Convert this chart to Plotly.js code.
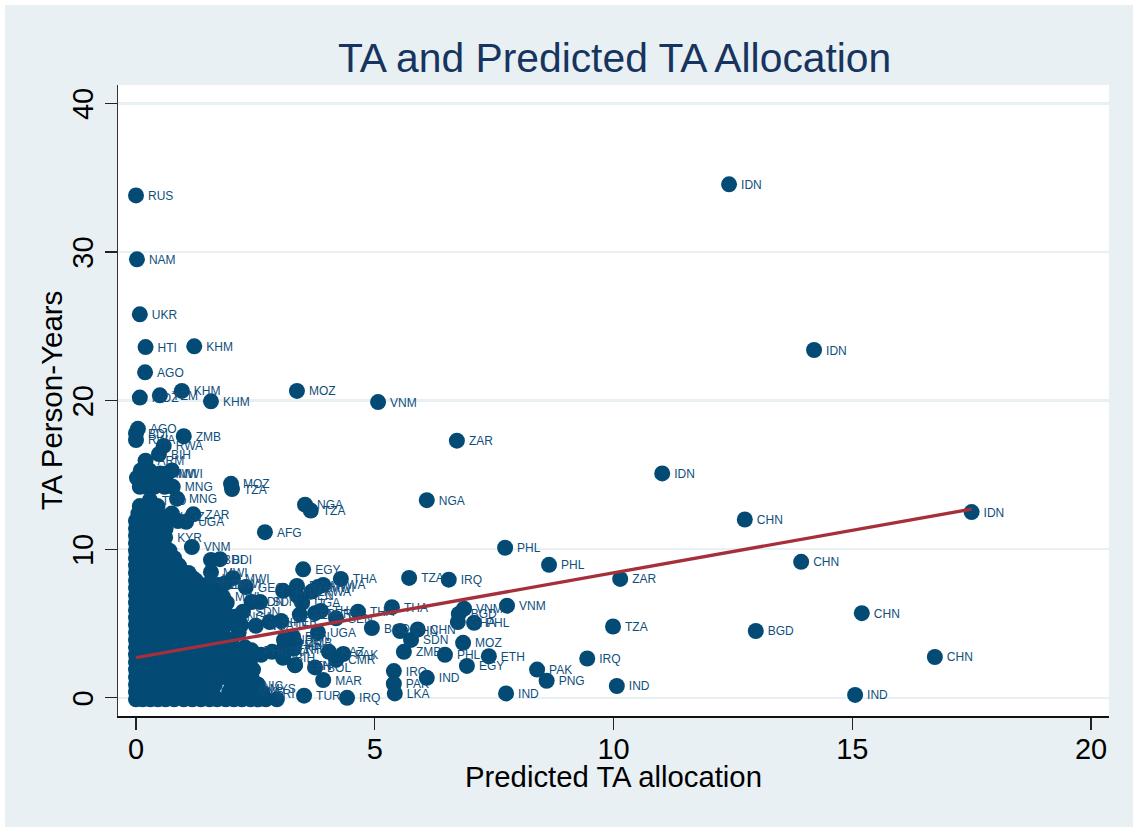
<!DOCTYPE html>
<html>
<head>
<meta charset="utf-8">
<script src="https://cdn.plot.ly/plotly-3.0.1.min.js"></script>
<style>
html,body{margin:0;padding:0;background:#fff;overflow:hidden}
#chart{position:absolute;left:5px;top:5px;width:1128px;height:822px}
</style>
</head>
<body>
<div id="chart"></div>
<script>
// Labelled points
const codes = ["RUS","NAM","UKR","HTI","KHM","AGO","MOZ","YEM","KHM","KHM","MOZ","VNM","ZAR","IDN","IDN","IDN","IDN",
"CHN","CHN","CHN","CHN","BGD","IND","NGA","PHL","PHL","ZAR","TZA","IRQ","IND","IND","PNG","PAK","ETH","EGY","MOZ","PHL",
"ZMB","SDN","IND","IRQ","PAK","LKA","IRQ","TUR","MAR","VNM","VNM","BGD","PHL","GHA","TZA","IRQ","THA","THA","BGD","CHN","CHN",
"NGA","TZA","AFG","MOZ","TZA","EGY","THA","UGA","AGO","BDI","RWA","ZMB","RWA","BIH","ARM","MWI","MWI","MNG","MNG","TCD","ZAR","UGA","KGZ","KYR","VNM","BDI","BDI","MWI",
"KHM","IDN","SDN","WWA","NGA","BOL","CMR","PAK","KAZ","PER","SEN","ETH","ZMB","MYS","MYS","PHL","RWA","MWI",
"NGA","SDN","MWI","KHN","PER","SEN","THA","RWA","KEN","UGA","BEN","ZMB","GHA","ETH","BIH","KEN","MLI","TCD","ERI","MWI","MWI","GEO","NPL","KHM","NIC","ERI"];
const codeX = [0,0.02,0.08,0.2,1.22,0.19,0.08,0.5,0.96,1.57,3.37,5.07,6.72,12.42,14.2,11.02,17.5,
12.75,13.93,15.2,16.73,12.98,15.06,6.09,7.73,8.65,10.14,9.99,9.45,10.07,7.75,8.6,8.4,7.39,6.93,6.85,6.47,
5.61,5.76,6.09,5.4,5.4,5.42,4.42,3.52,3.92,7.77,6.87,6.76,7.08,6.74,5.72,6.55,5.36,4.65,4.94,5.53,5.9,
3.54,3.66,2.7,1.99,2.01,3.5,4.29,3.81,0.04,0,0,1,0.58,0.48,0.2,0.5,0.63,0.77,0.86,0.29,1.2,1.05,0.67,0.61,1.17,1.57,1.76,1.57,
3.08,2.42,2.6,3.92,2.51,3.75,4.19,4.34,4.04,3.75,4.19,3.33,3.12,2.55,2.3,2.42,3.68,3.81,
2.07,2.24,1.82,2.8,3.04,3.43,3.87,3.37,3.37,3.48,3.29,3.33,2.85,3.08,3.08,3.33,1.19,1.47,1.72,2.03,1.86,2.3,3.1,3.3,2.4,2.65];
const codeY = [33.8,29.5,25.8,23.6,23.65,21.9,20.2,20.35,20.65,19.95,20.65,19.9,17.3,34.55,23.4,15.1,12.5,
12,9.15,5.7,2.75,4.5,0.2,13.3,10.1,8.95,8,4.8,2.65,0.8,0.3,1.15,1.9,2.8,2.15,3.7,2.9,
3.1,3.9,1.35,1.8,0.95,0.3,0,0.15,1.2,6.2,6,5.65,5.05,5.1,8.07,7.95,6.1,5.8,4.7,4.5,4.6,
13,12.6,11.15,14.4,14.05,8.65,8,4.4,18.1,17.8,17.35,17.6,16.95,16.4,15.95,15.1,15.1,14.2,13.4,13.3,12.35,11.85,12.2,10.8,10.15,9.28,9.33,8.45,
7.2,6.45,6.45,7.6,4.85,2.05,2.55,2.95,3.1,5.7,5.35,2.2,3.6,0.65,0.4,3.2,7.15,7.45,
5.45,5.8,6.8,5.1,5.17,5.6,5.85,7.53,6.9,6.4,4.1,3.7,3.1,3.23,2.7,2.2,8.05,7.6,7.6,8.05,7.7,7.45,3.9,3.3,0.8,0.3];

// Unlabelled mass of overlapping points near the origin, read as rows
const rowY = [-0.1,0.4,0.9,1.4,1.9,2.4,2.9,3.4,3.9,4.4,4.9,5.4,5.9,6.4,6.9,7.4,7.9,8.4,8.9,9.4,9.9,10.4,10.9,11.4,11.9,12.4,12.9,14.2,14.8,15.3];
const rowX = [
[0,0.14,0.3,0.46,0.62,0.8,1,1.18,1.36,1.54,1.7,1.88,2.05,2.22,2.4,2.56,2.72,2.95],
[0,0.18,0.36,0.54,0.72,0.9,1.08,1.26,1.44,1.6,1.95,2.25,2.45,2.62],
[0,0.18,0.36,0.54,0.72,0.9,1.08,1.26,1.44,1.65,2,2.3,2.55],
[0,0.18,0.36,0.54,0.72,0.9,1.08,1.26,1.44,1.62,1.8,2.1,2.42],
[0,0.18,0.36,0.54,0.72,0.9,1.08,1.26,1.44,1.62,1.8,1.98,2.2,2.45],
[0,0.18,0.36,0.54,0.72,0.9,1.08,1.26,1.44,1.62,1.8,1.98,2.16,2.38],
[0,0.18,0.36,0.54,0.72,0.9,1.08,1.26,1.44,1.62,1.8,1.98,2.16,2.42,2.62],
[0,0.18,0.36,0.54,0.72,0.9,1.08,1.26,1.44,1.62,1.8,1.98,2.28],
[0,0.18,0.36,0.54,0.72,0.9,1.08,1.26,1.44,1.62,1.8,2],
[0,0.18,0.36,0.54,0.72,0.9,1.08,1.26,1.44,1.62,1.8,2.15],
[0,0.18,0.36,0.54,0.72,0.9,1.08,1.26,1.44,1.62,1.88,2.2],
[0,0.18,0.36,0.54,0.72,0.9,1.08,1.26,1.44,1.62,1.95],
[0,0.18,0.36,0.54,0.72,0.9,1.08,1.26,1.44,1.62,1.85],
[0,0.18,0.36,0.54,0.72,0.9,1.08,1.26,1.44,1.65,1.9],
[0,0.18,0.36,0.54,0.72,0.9,1.08,1.26,1.5,1.7],
[0,0.18,0.36,0.54,0.72,0.9,1.08,1.3,1.5],
[0,0.18,0.36,0.54,0.72,0.9,1.08,1.25],
[0,0.18,0.36,0.54,0.72,0.95,1.1],
[0,0.18,0.36,0.54,0.72,0.9],
[0,0.18,0.36,0.54,0.8],
[0,0.18,0.36,0.54,0.7],
[0,0.18,0.36,0.58],
[0,0.18,0.36,0.52],
[0,0.18,0.36,0.62],
[0,0.16,0.34,0.52,0.88],
[0.05,0.22,0.42,0.75],
[0.08,0.25,0.45],
[0.08,0.22,0.38,0.6],
[0.02,0.15,0.35,0.62],
[0.1,0.28,0.75]
];
const blobX = rowX.flat();
const blobY = rowX.flatMap((r,i)=>r.map(()=>rowY[i]));

// Fitted line
const fitX = [0,17.5];
const fitY = [2.7,12.7];

const navy = "#034a75";
const bg = "#e8f0f3";

Plotly.newPlot("chart",[
 {x:blobX,y:blobY,type:"scatter",mode:"markers",hoverinfo:"skip",
  marker:{color:navy,size:16,line:{width:0}},cliponaxis:false},
 {x:codeX,y:codeY,text:codes,type:"scatter",mode:"markers+text",textposition:"middle right",
  textfont:{family:"Liberation Sans",size:12,color:"#0f4f7c"},
  marker:{color:navy,size:16,line:{width:0}},cliponaxis:false},
 {x:fitX,y:fitY,type:"scatter",mode:"lines",line:{color:"#a5303c",width:3.3}}
],{
 width:1128,height:822,showlegend:false,
 paper_bgcolor:bg,plot_bgcolor:"#ffffff",
 margin:{l:113,r:24,t:80,b:110.5,pad:0},
 font:{family:"Liberation Sans",color:"#000"},
 title:{text:"TA and Predicted TA Allocation",font:{size:40.8,color:"#17345f"},x:0.5404,xanchor:"center",y:0.9364,yanchor:"middle"},
 xaxis:{range:[-0.377,20.377],tickvals:[0,5,10,15,20],ticktext:["0","5","10","15","20"],showgrid:false,zeroline:false,
  showline:true,linecolor:"#111",linewidth:1.5,ticks:"outside",ticklen:12,tickwidth:1.2,tickcolor:"#222",ticklabelstandoff:-5,
  tickfont:{size:29},title:{text:"Predicted TA allocation",font:{size:29.3},standoff:0}},
 yaxis:{range:[-1.22,41.23],tickvals:[0,10,20,30,40],ticktext:["0","10","20","30","40"],tickangle:-90,ticklabelshift:5,showgrid:true,gridcolor:bg,gridwidth:2.5,zeroline:false,
  showline:true,linecolor:"#333",linewidth:1.5,ticks:"outside",ticklen:12,tickwidth:1.2,tickcolor:"#222",
  tickfont:{size:29},title:{text:"TA Person-Years",font:{size:29.5},standoff:0}}
},{displayModeBar:false,staticPlot:true}).then(function(){
 // Fine placement of axis titles and point labels, keeping each element's own transform
 const nudge=function(el,dx,dy){
  if(el) el.setAttribute("transform","translate("+dx+","+dy+") "+(el.getAttribute("transform")||""));
 };
 nudge(document.querySelector(".xtitle"),0,-5);
 nudge(document.querySelector(".ytitle"),5,0);
 document.querySelectorAll(".scatterlayer .trace .text").forEach(function(g){nudge(g,1,1.5);});
});
</script>
</body>
</html>
